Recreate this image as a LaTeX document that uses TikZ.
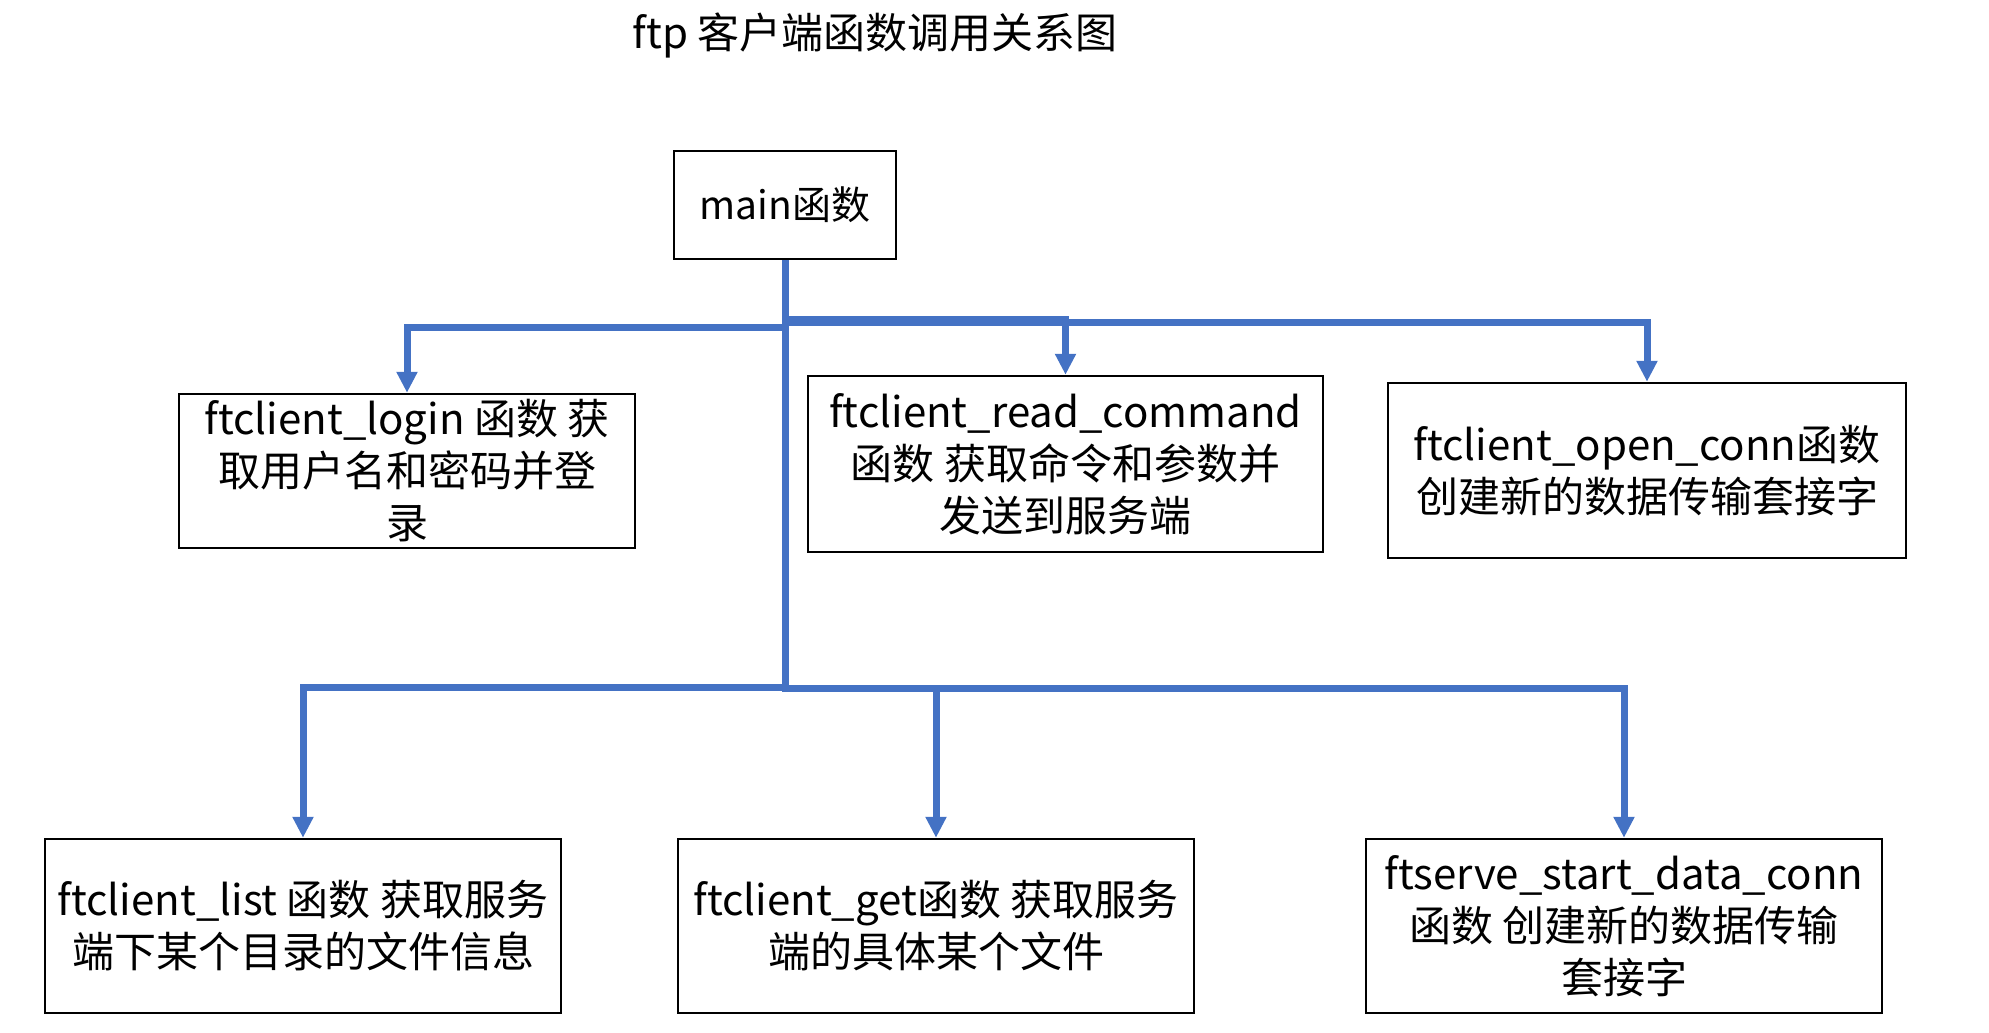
\documentclass[tikz,border=0pt]{standalone}
\usepackage{fontspec}
\setmainfont{Noto Sans CJK SC}
\usetikzlibrary{arrows.meta,positioning}
\definecolor{callblue}{RGB}{68,114,196}

\begin{document}
\begin{tikzpicture}[x=1pt, y=-1pt, >={Triangle[width=20pt,length=21pt]}, node distance=266pt]
  \tikzstyle{func}=[draw=black, line width=2.5pt, inner sep=0pt, align=center, text=black, minimum width=516pt, minimum height=174pt, font=\fontsize{42}{52}\selectfont]
  \tikzstyle{call}=[->, draw=callblue, line width=7pt]

  \useasboundingbox (0,0) rectangle (1989,1033);

  \node (title) at (875,35) [font=\fontsize{42}{50}\selectfont] {ftp 客户端函数调用关系图};
  \node[func, minimum width=222pt, minimum height=108pt, font=\fontsize{39}{47}\selectfont] (main) at (785,205) {main函数};

  \node[func, minimum width=456pt, minimum height=154pt] (login) [below of=main, xshift=-378pt] {ftclient\_login 函数 获\\取用户名和密码并登\\录};
  \node[func, minimum width=515pt, minimum height=176pt] (read) [below of=main, node distance=259pt, xshift=280.5pt] {ftclient\_read\_command\\函数 获取命令和参数并\\发送到服务端};
  \node[func, minimum width=518pt, minimum height=175pt] (open) [below of=main, node distance=265.5pt, xshift=862pt] {ftclient\_open\_conn函数\\创建新的数据传输套接字};

  \node[func] (list)  [below of=main, node distance=721pt, xshift=-482pt] {ftclient\_list 函数 获取服务\\端下某个目录的文件信息};
  \node[func] (get)   [right of=list, node distance=633pt] {ftclient\_get函数 获取服务\\端的具体某个文件};
  \node[func] (start) [right of=get, node distance=688pt] {ftserve\_start\_data\_conn\\函数 创建新的数据传输\\套接字};

  \draw[call] (main.south) -- ++(0,67) -| (login.north);
  \draw[call] (main.south) -- ++(0,59.5) -| (read.north);
  \draw[call] (main.south) -- ++(0,62.5) -| (open.north);
  \draw[call] (main.south) -- ++(0,427) -| (list.north);
  \draw[call] (main.south) -- ++(0,428.5) -| (get.north);
  \draw[call] (main.south) -- ++(0,428) -| (start.north);
\end{tikzpicture}
\end{document}
